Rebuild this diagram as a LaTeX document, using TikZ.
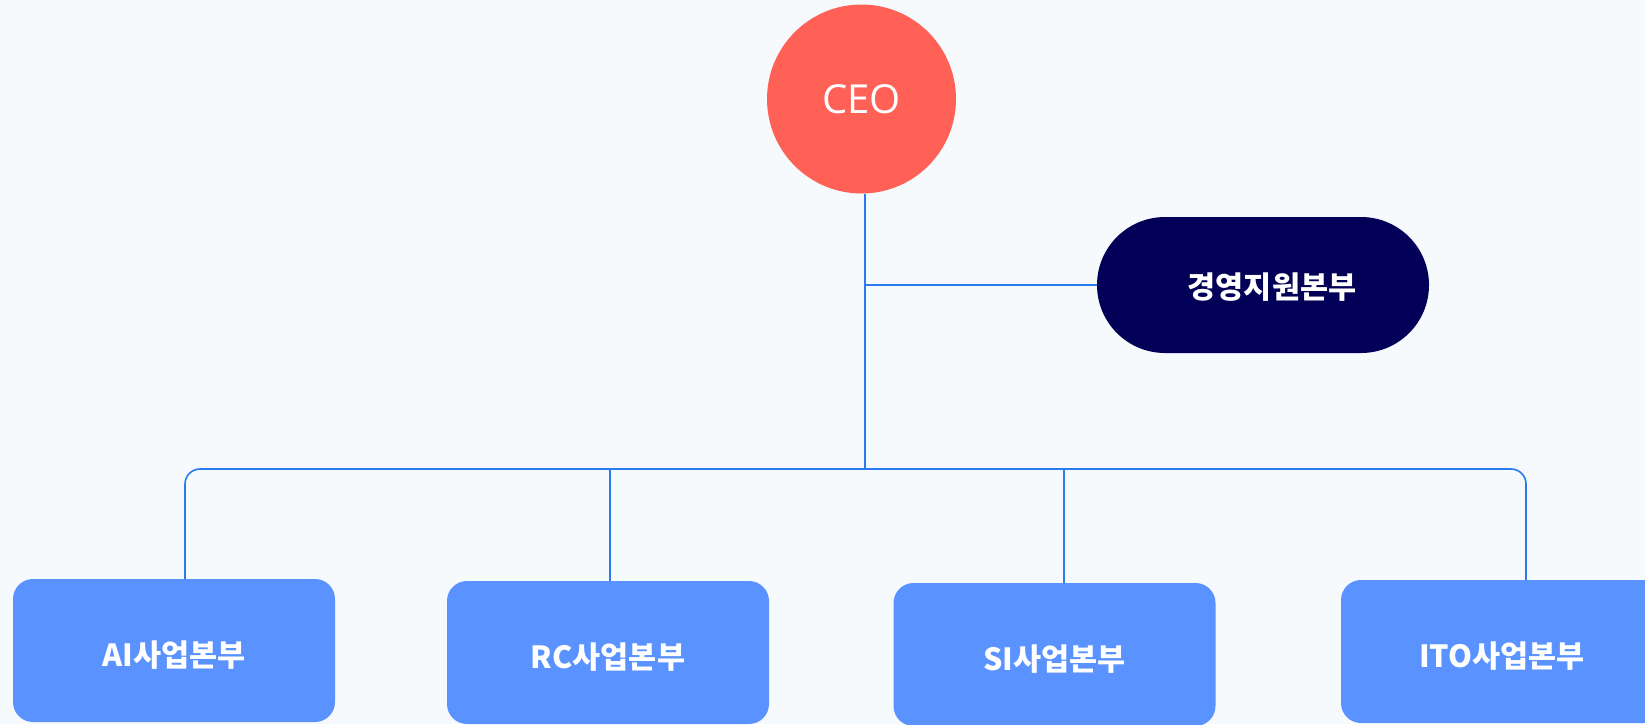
\documentclass[tikz,border=0pt]{standalone}
\usepackage{fontspec}
\setmainfont{Open Sans}
\newfontfamily\krfont{Noto Sans CJK KR}
\usetikzlibrary{positioning}
\definecolor{bgcolor}{RGB}{246,250,253}
\definecolor{ceored}{RGB}{255,97,87}
\definecolor{navy}{RGB}{3,0,87}
\definecolor{unitblue}{RGB}{90,146,255}
\definecolor{linkblue}{RGB}{43,122,240}

\begin{document}
\begin{tikzpicture}[x=1pt, y=-1pt,
        krtext/.style={text=white, font=\krfont\bfseries\fontsize{30.5}{32}\selectfont, inner sep=0pt,
            text height=31pt, text depth=0pt},
        unit/.style={krtext, fill=unitblue, rounded corners=20pt, minimum width=322pt, minimum height=143pt},
        link/.style={draw=linkblue, line width=1.6pt}]
        % canvas
        \fill[bgcolor] (0,0) rectangle (1645,724);
        \useasboundingbox (0,0) rectangle (1645,724);

        % top of the chart
        \node[circle, fill=ceored, minimum size=189pt, inner sep=0pt, text=white,
              font=\fontsize{40}{44}\selectfont] (ceo) at (861.5,99) {CEO};
        \node[krtext, fill=navy, rounded corners=68pt, minimum width=332pt, minimum height=136pt,
              text height=27pt] (support) at (1263,285) {\hspace*{18pt}경영지원본부};

        % business units
        \node[unit] (ai) at (174,650.5) {AI사업본부};
        \node[unit] (rc) at (608,652.5) {RC사업본부};
        \node[unit] (si) at (1054.5,654.5) {SI사업본부};
        \node[unit] (ito) at (1502,651.5) {ITO사업본부};

        % connector points on the bus
        \coordinate (bus) at (865,469);
        \coordinate (dropai) at (185,469);
        \coordinate (droprc) at (610,469);
        \coordinate (dropsi) at (1064,469);
        \coordinate (dropito) at (1526,469);

        \draw[link] (bus |- ceo.south) -- (bus);
        \draw[link] (bus |- support.west) -- (support.west);
        \draw[link, rounded corners=15pt] (ai.north -| dropai) -- (dropai) -- (dropito) -- (ito.north -| dropito);
        \foreach \n in {rc,si} {
            \draw[link] (drop\n) -- (\n.north -| drop\n);
        }
\end{tikzpicture}
\end{document}
